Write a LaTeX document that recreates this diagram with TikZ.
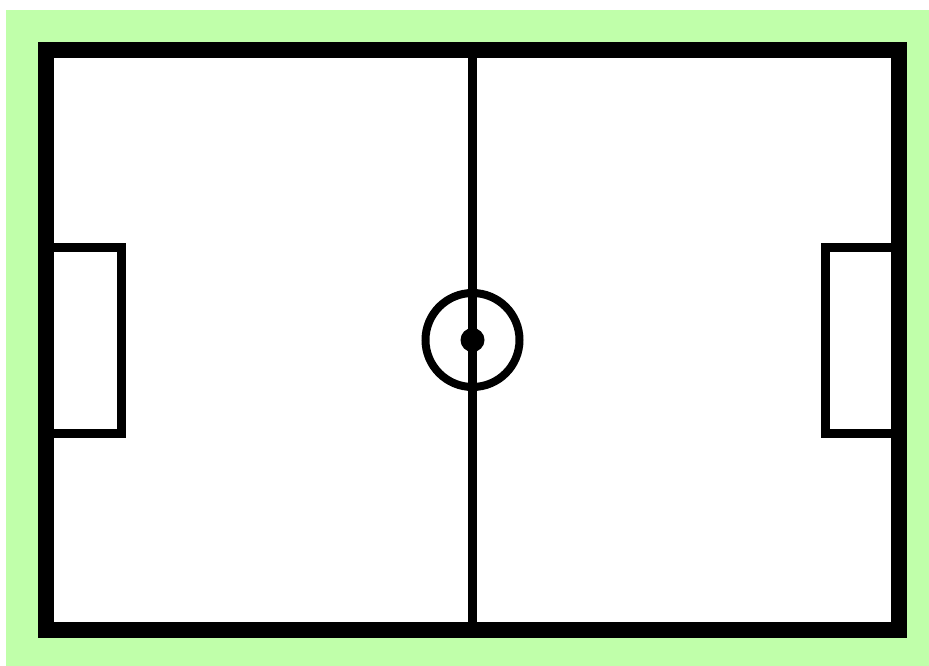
\documentclass[tikz,border=0pt]{standalone}
\definecolor{grass}{RGB}{192,255,170}
\begin{document}
\begin{tikzpicture}[x=1bp,y=-1bp,
  thinline/.style={line width=9bp,draw=black},
  outerline/.style={line width=16bp,draw=black}]
\useasboundingbox (0,0) rectangle (929,666);
\fill[grass] (6,10) rectangle (929,666);
\fill[white] (46,50) rectangle (899,630);
% goal boxes
\draw[thinline] (46,247) -- (121.5,247) -- (121.5,433) -- (46,433);
\draw[thinline] (899,247) -- (825.5,247) -- (825.5,433) -- (899,433);
% halfway line
\coordinate (top) at (472.5,50);
\coordinate (bot) at (472.5,630);
\coordinate (c) at (472.5,340);
\draw[thinline] (top) -- (bot);
\draw[line width=8bp] (c) circle[radius=47];
\fill (c) circle[radius=12];
% outer border
\draw[outerline] (46,50) rectangle (899,630);
\end{tikzpicture}
\end{document}
